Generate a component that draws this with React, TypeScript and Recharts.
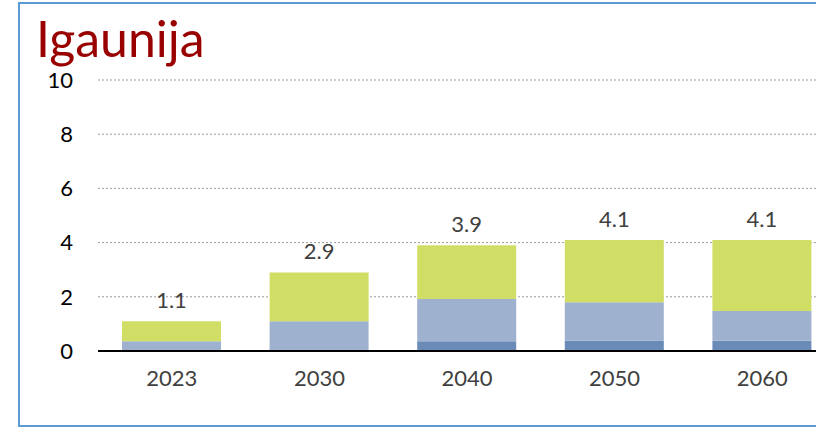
import React from 'react'
import { BarChart, Bar, XAxis, YAxis, CartesianGrid, LabelList } from 'recharts'

const years = ['2023', '2030', '2040', '2050', '2060']
const darkPart = [0, 0, 0.36, 0.38, 0.38]
const lightPart = [0.36, 1.1, 1.56, 1.42, 1.1]
const greenPart = [0.74, 1.8, 1.98, 2.3, 2.62]
const totals = [1.1, 2.9, 3.9, 4.1, 4.1]
const yTicks = [0, 2, 4, 6, 8, 10]

const data = years.map((year, i) => ({
  year,
  dark: darkPart[i],
  light: lightPart[i],
  green: greenPart[i],
  total: totals[i],
}))

const FONT = 'Lato, "Open Sans", sans-serif'

const TotalLabel = (props: any) => {
  const { x, y, width, index } = props
  return (
    <text
      x={x + width / 2}
      y={y - 13}
      textAnchor="middle"
      fontSize={22}
      fontFamily={FONT}
      fill="#404040"
    >
      {totals[index].toFixed(1)}
    </text>
  )
}

const App = () => {
  return (
    <div
      style={{
        position: 'fixed',
        left: 0,
        top: 0,
        width: 816,
        height: 427,
        overflow: 'hidden',
        background: '#fff',
      }}
    >
      <div
        style={{
          position: 'absolute',
          left: 18,
          top: 2,
          width: 860,
          height: 421,
          border: '2px solid #5B9BD5',
        }}
      />
      <div
        style={{
          position: 'absolute',
          left: 36,
          top: 13,
          fontFamily: FONT,
          fontSize: 50,
          lineHeight: '50px',
          height: 50,
          color: '#990000',
        }}
      >
        Igaunija
      </div>
      <div style={{ position: 'absolute', left: 0, top: 0 }}>
        <BarChart
          width={840}
          height={427}
          data={data}
          margin={{ top: 80, right: 4, bottom: 0, left: 0 }}
        >
          <CartesianGrid vertical={false} strokeDasharray="2 2" stroke="#9a9a9a" />
          <XAxis
            dataKey="year"
            height={76}
            tickLine={false}
            tickSize={0}
            tickMargin={19}
            axisLine={{ stroke: '#000', strokeWidth: 2 }}
            tick={{ fontSize: 22, fill: '#404040', fontFamily: FONT }}
          />
          <YAxis
            width={98}
            domain={[0, 10]}
            ticks={yTicks}
            axisLine={false}
            tickLine={false}
            tickSize={0}
            tickMargin={25}
            tick={{ fontSize: 22, fill: '#000', fontFamily: FONT }}
          />
          <Bar dataKey="dark" stackId="a" fill="#6A8BB8" barSize={99} isAnimationActive={false} />
          <Bar dataKey="light" stackId="a" fill="#9EB1CE" barSize={99} isAnimationActive={false} />
          <Bar dataKey="green" stackId="a" fill="#D1DE65" barSize={99} isAnimationActive={false}>
            <LabelList dataKey="total" content={<TotalLabel />} />
          </Bar>
        </BarChart>
      </div>
    </div>
  )
}

export default App
